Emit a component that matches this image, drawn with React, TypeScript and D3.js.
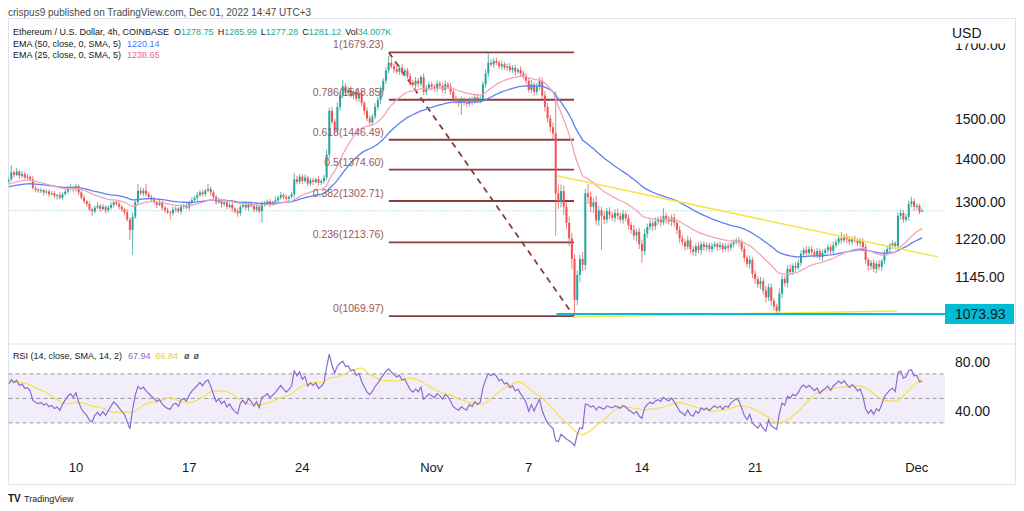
import React from "react";
import * as d3 from "d3";

// ---------- data ----------
const firstOpen = 1345;
const closes = [
  1352,1368,1362,1370,1360,1364,1356,1358,1352,1332,1328,1325,1327,1322,1324,1318,1320,1314,1316,1310,1318,1324,1330,1334,1329,1336,
  1322,1310,1302,1296,1284,1280,1288,1292,1285,1290,1282,1288,1294,1300,1296,1290,1284,1278,1262,1240,1268,1300,1326,1320,
  1326,1318,1312,1306,1300,1294,1298,1288,1282,1278,1276,1284,1286,1280,1290,1292,1288,1298,1305,1310,1316,1322,1318,1326,1330,1322,
  1312,1300,1304,1296,1300,1290,1294,1286,1280,1276,1290,1294,1288,1296,1292,1284,1290,1280,1296,1298,1302,1296,1300,1304,1310,1316,1312,1308,1312,1318,1352,1346,1358,
  1348,1356,1342,1350,1346,1352,1344,1348,1356,1410,1520,1492,1470,1530,1560,1585,1568,1575,1560,1570,1552,1566,1540,1520,1500,1490,1505,1530,1548,1575,1600,1628,1650,1640,
  1632,1625,1636,1622,1628,1612,1596,1588,1600,1592,1610,1570,1580,1590,1584,1578,1592,1586,1575,1590,1584,1570,1552,1545,1540,1548,1542,1538,1550,1544,1555,1548,1552,1590,1620,1650,
  1645,1655,1650,1640,1646,1636,1640,1630,1636,1625,1630,1620,1612,1600,1575,1590,1570,1585,1600,1560,1530,1500,1478,1462,1320,
  1300,1325,1290,1255,1222,1180,1100,1148,1180,1168,1320,1312,1290,1300,1260,1282,1270,1262,1280,1272,1266,1276,1270,1262,1274,1265,1250,1240,1228,1236,1210,1196,
  1232,1246,1254,1248,1258,1262,1256,1270,1262,1258,1266,1255,1240,1222,1214,1205,1218,1200,1194,1206,1198,1210,1204,1208,1200,1206,1210,1204,1208,1200,1206,1203,1210,1214,1218,
  1214,1200,1182,1170,1178,1150,1140,1130,1136,1118,1105,1124,1098,1088,1080,1112,1140,1132,1160,1154,1166,1162,1172,1190,1198,1192,1200,1194,1188,1196,1184,1192,
  1198,1204,1196,1208,1214,1222,1218,1226,1220,1215,1222,1218,1212,1216,1204,1178,1166,1172,1160,1170,1164,1176,1192,1200,1208,1212,1206,1270,1276,1262,1268,1296,1302,1290,1292,1279,1281,
];
const wickUp = [
  6,17,5,8,4,7,5,6,3,8,5,4,6,3,5,4,6,5,3,7,
  4,6,5,8,3,6,4,5,7,3,6,4,5,8,4,6,3,5,7,4,
  5,6,3,4,7,5,9,6,15,8,6,16,5,4,6,3,7,5,4,6,
  4,7,5,3,6,4,8,5,6,4,7,5,6,4,12,6,5,4,7,3,
  6,4,5,8,3,6,4,5,7,4,6,3,5,4,7,5,4,6,3,8,
  5,7,4,6,3,5,14,8,6,5,7,4,6,5,3,7,4,6,12,8,
  10,7,12,9,17,9,8,10,6,9,7,8,6,9,8,6,10,8,9,7,
  10,20,12,8,9,7,10,6,8,9,7,10,8,6,10,9,7,8,6,9,
  7,8,10,6,9,7,8,6,10,7,9,6,8,7,10,8,9,12,29,10,
  8,9,7,10,6,8,9,7,8,6,10,7,9,8,12,6,9,10,8,12,
  10,9,12,108,20,15,12,10,14,12,10,9,8,14,10,21,12,9,14,10,
  8,10,7,9,6,8,10,7,9,6,8,7,10,6,8,9,10,7,8,6,
  9,7,8,17,6,8,7,9,6,8,7,6,9,5,7,6,8,5,7,6,
  5,7,6,4,8,5,6,7,4,6,5,7,6,8,5,9,6,7,5,8,
  6,9,7,8,6,5,10,8,6,7,9,5,8,6,7,5,8,6,7,5,
  6,5,7,4,6,5,8,6,7,14,5,6,7,4,6,5,7,6,8,5,
  6,7,5,8,4,6,7,5,6,4,9,8,6,7,8,10,6,5,4,5,
];
const wickDn = [
  5,4,6,3,7,5,4,6,5,3,6,4,5,7,4,6,3,5,8,4,
  6,3,5,4,7,5,6,4,5,6,4,10,5,3,6,4,7,5,4,6,
  4,6,5,7,4,21,52,5,6,4,7,5,6,4,5,7,3,6,5,4,
  14,5,6,4,7,5,3,6,4,5,7,4,6,5,4,7,5,6,4,8,
  5,6,4,7,5,8,6,4,5,7,4,6,5,4,25,6,5,7,4,6,
  5,4,6,5,7,4,8,6,5,7,4,6,5,8,4,6,5,7,6,8,
  7,9,8,10,7,9,8,6,10,7,9,8,10,7,8,9,7,8,10,6,
  9,8,7,10,6,9,8,10,7,9,6,8,10,7,9,8,6,10,7,9,
  8,7,10,6,9,8,7,10,31,8,9,7,10,6,8,9,7,8,10,6,
  9,7,8,10,6,9,7,8,10,6,9,8,10,7,9,12,8,10,9,12,
  10,12,14,92,15,12,18,14,16,20,30,10,14,12,10,16,12,14,10,12,
  72,10,8,9,7,10,8,6,9,7,10,8,9,12,10,24,8,9,7,10,
  8,7,9,6,8,7,10,8,9,10,7,8,6,9,7,8,6,9,7,8,
  6,7,5,8,6,7,5,8,6,7,5,9,6,8,7,10,8,9,7,10,
  8,10,7,9,8,8,7,9,6,8,7,6,8,5,7,6,8,5,7,6,
  7,6,8,5,7,6,8,5,6,7,5,8,6,7,5,6,7,9,8,10,
  8,7,9,6,8,7,5,6,8,7,6,8,7,6,8,7,9,6,5,1,
];
const ema50Seed = 1334;
const ema25Seed = 1340;
const rsiSeedGain = 7;
const rsiSeedLoss = 4.7;

const xTickIndex = [25, 67, 109, 157, 193, 235, 277, 337];
const xTickLabels = ["10", "17", "24", "Nov", "7", "14", "21", "Dec"];
const priceTicks = [1145, 1220, 1300, 1400, 1500, 1700];
const rsiTicks = [40, 80];
const rsiLevels = [30, 50, 70];
const fibRatios = ["1", "0.786", "0.618", "0.5", "0.382", "0.236", "0"];
const fibPrices = [1679.23, 1548.85, 1446.49, 1374.6, 1302.71, 1213.76, 1069.97];
const fibStart = 141.1;
const fibEnd = 209.8;
const lastPrice = 1281.12;
const supportPrice = 1073.93;
const supportStart = 203.3;
const trendUpper: [number, number][] = [[203.5, 1360], [344.8, 1184]];
const trendLower: [number, number][] = [[209.4, 1068.5], [329.6, 1079.6]];

// ---------- layout ----------
const W = 1024, H = 511;
const L = 8.5, PR = 945, BR = 1015.5, TOP = 18.5, MB = 344, RB = 457, BB = 484.5;
const FONT = "'Liberation Sans', Arial, sans-serif";
const UP = "#26a69a", DN = "#ef5350";

const x = d3.scaleLinear().domain([0, 339]).range([8.6, 922.2]);
const y = d3.scaleLog().domain([1020.2, 1781.1]).range([344, 18]);
const yr = d3.scaleLinear().domain([3, 94.4]).range([456, 344]);

function ema(vals: number[], len: number, seed: number) {
  const a = 2 / (len + 1);
  let e = seed;
  return vals.map((v) => (e = a * v + (1 - a) * e));
}

function rsi(vals: number[]) {
  let ag = rsiSeedGain, al = rsiSeedLoss;
  let prev = firstOpen;
  return vals.map((v) => {
    const ch = v - prev;
    prev = v;
    ag = (ag * 13 + Math.max(ch, 0)) / 14;
    al = (al * 13 + Math.max(-ch, 0)) / 14;
    return 100 - 100 / (1 + ag / al);
  });
}

export default function App() {
  const opens = closes.map((c, i) => (i ? closes[i - 1] : firstOpen));
  const e50 = ema(closes, 50, ema50Seed);
  const e25 = ema(closes, 25, ema25Seed);
  const r = rsi(closes);
  const rSma = r.map((_, i) => d3.mean(r.slice(Math.max(0, i - 13), i + 1)) as number);

  const lineP = d3.line<number>().x((_, i) => x(i)).y((v) => y(v));
  const lineR = d3.line<number>().x((_, i) => x(i)).y((v) => yr(v));

  return (
    <svg width={W} height={H} style={{ position: "absolute", left: 0, top: 0, background: "#fff" }} fontFamily={FONT}>
      <defs>
        <clipPath id="mainClip"><rect x={L} y={TOP} width={PR - L} height={MB - TOP} /></clipPath>
        <clipPath id="rsiClip"><rect x={L} y={MB} width={PR - L} height={RB - MB} /></clipPath>
      </defs>
      <rect x={0} y={0} width={W} height={H} fill="#fff" />
      <text x={8} y={16} fontSize={10} fill="#4a4a4a">crispus9 published on TradingView.com, Dec 01, 2022 14:47 UTC+3</text>
      <rect x={L} y={TOP} width={BR - L} height={BB - TOP} fill="#fff" stroke="#e0e3eb" />
      <line x1={L} x2={BR} y1={MB} y2={MB} stroke="#e0e3eb" />

      {/* main pane */}
      <g clipPath="url(#mainClip)">
        <line x1={L} x2={PR} y1={y(lastPrice)} y2={y(lastPrice)} stroke={UP} strokeDasharray="1 2" opacity={0.6} />
        {fibPrices.map((p, k) => (
          <line key={"f" + k} x1={x(fibStart)} x2={x(fibEnd)} y1={y(p)} y2={y(p)} stroke="#8a3c3c" strokeWidth={1.8} />
        ))}
        <line x1={x(fibStart)} y1={y(fibPrices[0])} x2={x(fibEnd)} y2={y(fibPrices[6])} stroke="#8a3c3c" strokeWidth={1.8} strokeDasharray="6 5" />
        {closes.map((c, i) => {
          const o = opens[i];
          const hi = Math.max(o, c) + wickUp[i];
          const lo = Math.min(o, c) - wickDn[i];
          const col = c >= o ? UP : DN;
          const yt = y(Math.max(o, c));
          const yb = y(Math.min(o, c));
          return (
            <g key={i}>
              <line x1={x(i)} x2={x(i)} y1={y(hi)} y2={y(lo)} stroke={col} strokeWidth={1} opacity={0.75} />
              <rect x={x(i) - 1} y={yt} width={2} height={Math.max(1, yb - yt)} fill={col} />
            </g>
          );
        })}
        <path d={lineP(e50) || ""} fill="none" stroke="#5b7ff5" strokeWidth={1.3} />
        <path d={lineP(e25) || ""} fill="none" stroke="#f4a3bb" strokeWidth={1.3} />
        <line x1={x(trendUpper[0][0])} y1={y(trendUpper[0][1])} x2={x(trendUpper[1][0])} y2={y(trendUpper[1][1])} stroke="#f7e34a" strokeWidth={1.5} />
        <line x1={x(trendLower[0][0])} y1={y(trendLower[0][1])} x2={x(trendLower[1][0])} y2={y(trendLower[1][1])} stroke="#f7e34a" strokeWidth={1.5} />
        <line x1={x(supportStart)} x2={PR} y1={y(supportPrice)} y2={y(supportPrice)} stroke="#00bcd4" strokeWidth={2} />
      </g>
      {fibPrices.map((p, k) => (
        <text key={"fl" + k} x={x(fibStart) - 5} y={y(p) - 4} fontSize={10.5} fill="#9a5a5a" textAnchor="end">
          {`${fibRatios[k]}(${p.toFixed(2)})`}
        </text>
      ))}

      {/* price axis */}
      {priceTicks.map((p) => (
        <text key={"p" + p} x={955} y={y(p)} dy="0.36em" fontSize={14} fill="#131722">{p.toFixed(2)}</text>
      ))}
      <rect x={PR + 1} y={TOP + 1} width={BR - PR - 2} height={24} fill="#fff" />
      <text x={952} y={33} dy="0.36em" fontSize={14} fill="#131722">USD</text>
      <rect x={PR} y={y(supportPrice) - 10} width={69} height={20} fill="#00bcd4" />
      <text x={955} y={y(supportPrice)} dy="0.36em" fontSize={14} fill="#131722">{supportPrice.toFixed(2)}</text>

      {/* legend */}
      <g fontSize={9} fill="#131722">
        <text x={13} y={35}>
          Ethereum / U.S. Dollar, 4h, COINBASE
          <tspan dx={5}>O</tspan><tspan fill={UP}>1278.75</tspan>
          <tspan dx={4}>H</tspan><tspan fill={UP}>1285.99</tspan>
          <tspan dx={4}>L</tspan><tspan fill={UP}>1277.28</tspan>
          <tspan dx={4}>C</tspan><tspan fill={UP}>1281.12</tspan>
          <tspan dx={4}>Vol</tspan><tspan fill={UP}>34.007K</tspan>
        </text>
        <text x={13} y={47}>
          EMA (50, close, 0, SMA, 5)<tspan dx={6} fill="#4a7bf7">1220.14</tspan>
        </text>
        <text x={13} y={58}>
          EMA (25, close, 0, SMA, 5)<tspan dx={6} fill="#f06292">1238.65</tspan>
        </text>
        <text x={13} y={359}>
          RSI (14, close, SMA, 14, 2)<tspan dx={6} fill="#8c6ad0">67.94</tspan>
          <tspan dx={5} fill="#e8cf2a">66.84</tspan>
          <tspan dx={6}>ø</tspan>
          <tspan dx={4}>ø</tspan>
        </text>
      </g>

      {/* RSI pane */}
      <rect x={L} y={yr(70)} width={PR - L} height={yr(30) - yr(70)} fill="#7e57c2" opacity={0.1} />
      {rsiLevels.map((v) => (
        <line key={"rl" + v} x1={L} x2={PR} y1={yr(v)} y2={yr(v)} stroke="#9598a1" strokeDasharray="4 3" strokeWidth={1} />
      ))}
      <g clipPath="url(#rsiClip)">
        <path d={lineR(rSma) || ""} fill="none" stroke="#f7e04b" strokeWidth={1.2} />
        <path d={lineR(r) || ""} fill="none" stroke="#8c6ad0" strokeWidth={1.2} />
      </g>
      {rsiTicks.map((v) => (
        <text key={"rt" + v} x={955} y={yr(v)} dy="0.36em" fontSize={14} fill="#131722">{v.toFixed(2)}</text>
      ))}

      {/* time axis */}
      {xTickIndex.map((t, k) => (
        <text key={"t" + k} x={x(t)} y={467} dy="0.36em" fontSize={13} fill="#131722" textAnchor="middle">{xTickLabels[k]}</text>
      ))}

      {/* logo */}
      <text x={8} y={502} fontSize={10} fontWeight="bold" fill="#131722">TV</text>
      <text x={24} y={502} fontSize={9} fill="#131722">TradingView</text>
    </svg>
  );
}
